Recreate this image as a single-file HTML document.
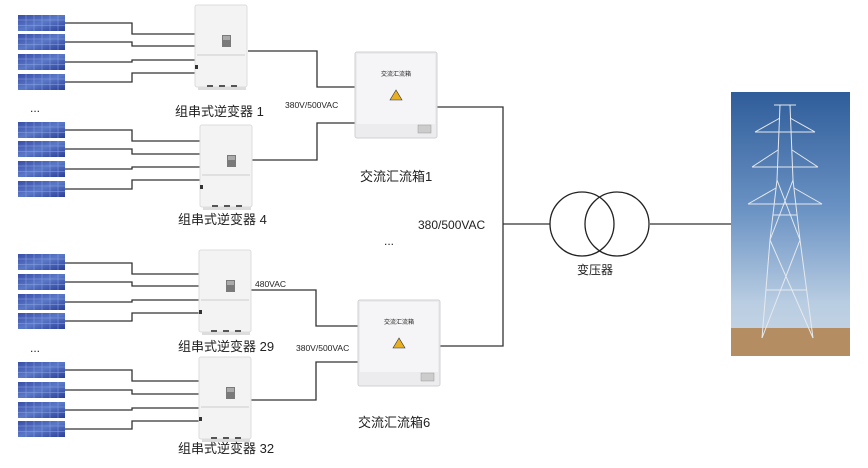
<!DOCTYPE html>
<html><head><meta charset="utf-8"><style>
body{margin:0;background:#fff;width:868px;height:463px;overflow:hidden}
svg text{font-family:"Liberation Sans","Noto Sans CJK SC",sans-serif;fill:#222}
</style></head><body>
<svg width="868" height="463" viewBox="0 0 868 463" xmlns="http://www.w3.org/2000/svg">
<defs>
<linearGradient id="pv" x1="0" y1="0" x2="1" y2="1">
<stop offset="0" stop-color="#3a4fa8"/><stop offset="0.5" stop-color="#5a78c8"/><stop offset="1" stop-color="#2c3f98"/></linearGradient>
<g id="panel">
<rect width="47" height="16" fill="url(#pv)"/>
<path d="M8 0V16M16 0V16M24 0V16M32 0V16M40 0V16M0 5H47M0 10.5H47" stroke="#8fa6e0" stroke-width="0.5"/>
</g>
<g id="inv">
<rect x="0" y="0" width="52" height="82" rx="2" fill="#f3f3f3" stroke="#dcdcdc"/>
<line x1="2" y1="50" x2="50" y2="50" stroke="#ccc"/>
<rect x="27" y="30" width="9" height="12" fill="#7a7a7a"/>
<rect x="28" y="31" width="7" height="4" fill="#aaa"/>
<rect x="3" y="82" width="48" height="3" fill="#ddd"/>
<path d="M12 81h6M24 81h6M36 81h6" stroke="#555" stroke-width="2"/>
<rect x="0" y="60" width="3" height="4" fill="#333"/>
</g>
<g id="box">
<rect x="0" y="0" width="82" height="86" rx="2" fill="#ececee" stroke="#d0d0d4"/>
<rect x="2" y="2" width="78" height="70" fill="#f5f5f7"/>
<text x="41" y="24" font-size="6" text-anchor="middle" fill="#555">交流汇流箱</text>
<path d="M48 38l-6 10h12z" fill="#e8b020" stroke="#333" stroke-width="0.6" transform="translate(-7,0)"/>
<rect x="63" y="73" width="13" height="8" fill="#ccc" stroke="#999" stroke-width="0.5"/>
</g>
<linearGradient id="sky" x1="0" y1="0" x2="0" y2="1">
<stop offset="0" stop-color="#2f5d9a"/><stop offset="0.45" stop-color="#6b93c4"/><stop offset="0.8" stop-color="#b9cde2"/><stop offset="1" stop-color="#c9d6e4"/></linearGradient>
</defs>

<!-- panels -->
<g>
<use href="#panel" x="18" y="15"/><use href="#panel" x="18" y="34"/><use href="#panel" x="18" y="54"/><use href="#panel" x="18" y="74"/>
<use href="#panel" x="18" y="122"/><use href="#panel" x="18" y="141"/><use href="#panel" x="18" y="161"/><use href="#panel" x="18" y="181"/>
<use href="#panel" x="18" y="254"/><use href="#panel" x="18" y="274"/><use href="#panel" x="18" y="294"/><use href="#panel" x="18" y="313"/>
<use href="#panel" x="18" y="362"/><use href="#panel" x="18" y="382"/><use href="#panel" x="18" y="402"/><use href="#panel" x="18" y="421"/>
</g>
<text x="30" y="112" font-size="12">...</text>
<text x="30" y="352" font-size="12">...</text>

<g fill="none" stroke="#333" stroke-width="1.3">
<!-- group1 -->
<path d="M65 23H132V34H196"/><path d="M65 42H132V46H196"/><path d="M65 62H132V60H196"/><path d="M65 82H132V73H196"/>
<path d="M65 130H132V141H200"/><path d="M65 149H132V154H200"/><path d="M65 169H132V167H200"/><path d="M65 189H132V180H200"/>
<path d="M65 263H132V274H199"/><path d="M65 282H132V286H199"/><path d="M65 302H132V300H199"/><path d="M65 321H132V313H199"/>
<path d="M65 370H132V381H199"/><path d="M65 390H132V394H199"/><path d="M65 410H132V408H199"/><path d="M65 429H132V421H199"/>
<!-- inverter outputs -->
<path d="M248 51H317V87H355"/><path d="M252 160H317V123H355"/>
<path d="M250 290H316V326H358"/><path d="M250 400H316V362H358"/>
<!-- bus -->
<path d="M437 107H503V346H440"/>
<path d="M503 224H550"/><path d="M650 224H731"/>
</g>
<circle cx="582" cy="224" r="32" fill="none" stroke="#222" stroke-width="1.3"/>
<circle cx="617" cy="224" r="32" fill="none" stroke="#222" stroke-width="1.3"/>

<use href="#inv" x="195" y="5"/>
<use href="#inv" x="200" y="125"/>
<use href="#inv" x="199" y="250"/>
<use href="#inv" x="199" y="357"/>
<use href="#box" x="355" y="52"/>
<use href="#box" x="358" y="300"/>

<text x="175" y="116" font-size="13">组串式逆变器 1</text>
<text x="178" y="224" font-size="13">组串式逆变器 4</text>
<text x="178" y="351" font-size="13">组串式逆变器 29</text>
<text x="178" y="453" font-size="13">组串式逆变器 32</text>
<text x="285" y="108" font-size="8.5">380V/500VAC</text>
<text x="255" y="287" font-size="8.5">480VAC</text>
<text x="296" y="351" font-size="8.5">380V/500VAC</text>
<text x="360" y="181" font-size="13">交流汇流箱1</text>
<text x="358" y="427" font-size="13">交流汇流箱6</text>
<text x="418" y="229" font-size="12">380/500VAC</text>
<text x="384" y="245" font-size="12">...</text>
<text x="577" y="274" font-size="12">变压器</text>

<!-- tower photo -->
<rect x="731" y="92" width="119" height="264" fill="url(#sky)"/>
<rect x="731" y="328" width="119" height="28" fill="#b48d62"/>
<g stroke="#e6e9ee" stroke-width="1" fill="none">
<path d="M780 105L777 180L770 240L762 338M790 105L793 180L800 240L813 338"/>
<path d="M777 180L800 240M793 180L770 240M770 240L813 338M800 240L762 338M773 215L797 215M766 290L807 290"/>
<path d="M755 132H815M752 167H818M748 204H822"/>
<path d="M755 132L780 118M815 132L790 118M752 167L778 150M818 167L792 150M748 204L776 188M822 204L794 188"/>
<path d="M774 105H796"/>
</g>
</svg>
</body></html>
